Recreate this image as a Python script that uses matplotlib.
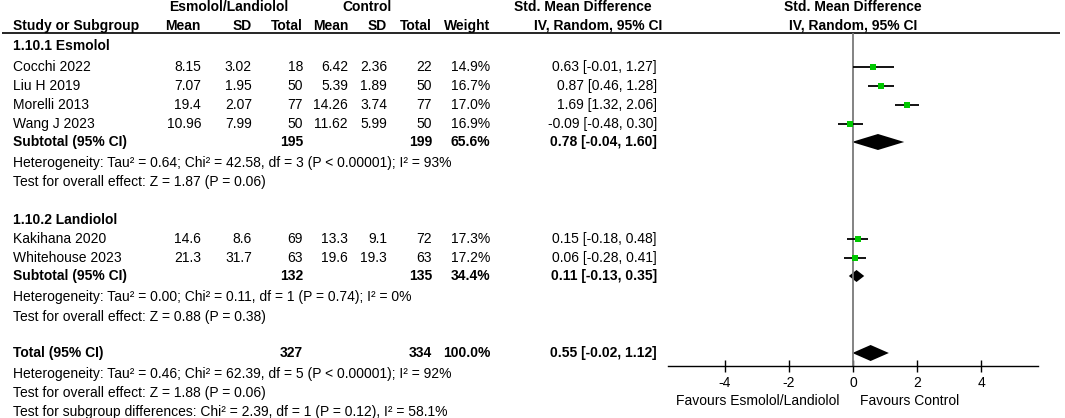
import matplotlib
matplotlib.use("Agg")
import matplotlib.pyplot as plt
import numpy as np

plt.rcParams['font.family'] = ['Liberation Sans', 'DejaVu Sans']
plt.rcParams['font.size'] = 10

# data
g1_studies = ['Cocchi 2022', 'Liu H 2019', 'Morelli 2013', 'Wang J 2023']
g1_exp_mean = ['8.15', '7.07', '19.4', '10.96']
g1_exp_sd = ['3.02', '1.95', '2.07', '7.99']
g1_exp_n = [18, 50, 77, 50]
g1_ctl_mean = ['6.42', '5.39', '14.26', '11.62']
g1_ctl_sd = ['2.36', '1.89', '3.74', '5.99']
g1_ctl_n = [22, 50, 77, 50]
g1_weight = [14.9, 16.7, 17.0, 16.9]
g1_smd = [0.63, 0.87, 1.69, -0.09]
g1_lo = [-0.01, 0.46, 1.32, -0.48]
g1_hi = [1.27, 1.28, 2.06, 0.30]

g2_studies = ['Kakihana 2020', 'Whitehouse 2023']
g2_exp_mean = ['14.6', '21.3']
g2_exp_sd = ['8.6', '31.7']
g2_exp_n = [69, 63]
g2_ctl_mean = ['13.3', '19.6']
g2_ctl_sd = ['9.1', '19.3']
g2_ctl_n = [72, 63]
g2_weight = [17.3, 17.2]
g2_smd = [0.15, 0.06]
g2_lo = [-0.18, -0.28]
g2_hi = [0.48, 0.41]

# subtotal / total pooled estimates: [group1, group2, total]
pooled_labels = ['Subtotal (95% CI)', 'Subtotal (95% CI)', 'Total (95% CI)']
pooled_exp_n = [195, 132, 327]
pooled_ctl_n = [199, 135, 334]
pooled_weight = ['65.6%', '34.4%', '100.0%']
pooled_smd = [0.78, 0.11, 0.55]
pooled_lo = [-0.04, -0.13, -0.02]
pooled_hi = [1.60, 0.35, 1.12]

g1_notes = ['Heterogeneity: Tau² = 0.64; Chi² = 42.58, df = 3 (P < 0.00001); I² = 93%',
            'Test for overall effect: Z = 1.87 (P = 0.06)']
g2_notes = ['Heterogeneity: Tau² = 0.00; Chi² = 0.11, df = 1 (P = 0.74); I² = 0%',
            'Test for overall effect: Z = 0.88 (P = 0.38)']
total_notes = ['Heterogeneity: Tau² = 0.46; Chi² = 62.39, df = 5 (P < 0.00001); I² = 92%',
               'Test for overall effect: Z = 1.88 (P = 0.06)',
               'Test for subgroup differences: Chi² = 2.39, df = 1 (P = 0.12), I² = 58.1%']

xticks = [-4, -2, 0, 2, 4]

# layout (figure pixels, y from top)
W, H = 1065, 418
col_right = [201, 252, 303, 348, 387, 432, 490]  # mean, sd, total, mean, sd, total, weight
ci_right = 657
name_x = 13
green = '#00c800'

fig = plt.figure(figsize=(W / 100, H / 100), dpi=100)
ax = fig.add_axes([0, 0, 1, 1])
ax.set_xlim(0, W)
ax.set_ylim(H, 0)
ax.axis('off')

# forest axes over the plot region
fa = fig.add_axes([668 / W, 0, 370 / W, 1])
fa.set_xlim(-5.78, 5.78)
fa.set_ylim(H, 0)
fa.patch.set_visible(False)
for s in ['top', 'left', 'right']:
    fa.spines[s].set_visible(False)
fa.spines['bottom'].set_position(('data', 366))
fa.spines['bottom'].set_linewidth(1.0)
fa.set_yticks([])
fa.set_xticks(xticks)
fa.set_xticklabels([str(t) for t in xticks])
fa.tick_params(axis='x', direction='inout', length=8, width=1.0, pad=3, labelsize=10)

# headers
ax.text(229, 7, 'Esmolol/Landiolol', ha='center', va='center', weight='bold')
ax.text(367, 7, 'Control', ha='center', va='center', weight='bold')
ax.text(583, 7, 'Std. Mean Difference', ha='center', va='center', weight='bold')
fa.text(0, 7, 'Std. Mean Difference', ha='center', va='center', weight='bold')
ax.text(name_x, 26, 'Study or Subgroup', ha='left', va='center', weight='bold')
for x, lab in zip(col_right, ['Mean', 'SD', 'Total', 'Mean', 'SD', 'Total', 'Weight']):
    ax.text(x, 26, lab, ha='right', va='center', weight='bold')
ax.text(598, 26, 'IV, Random, 95% CI', ha='center', va='center', weight='bold')
fa.text(0, 26, 'IV, Random, 95% CI', ha='center', va='center', weight='bold')
ax.hlines(32.5, 2, 1060, color='black', lw=1.2)

# zero line
fa.vlines(0, 33, 366, color='#7a7a7a', lw=1.3)


def study_rows(ys, names, em, es, en, cm, cs, cn, w, smd, lo, hi):
    for i, y in enumerate(ys):
        ax.text(name_x, y, names[i], ha='left', va='center')
        vals = [em[i], es[i], str(en[i]), cm[i], cs[i], str(cn[i]), f'{w[i]:.1f}%']
        for x, v in zip(col_right, vals):
            ax.text(x, y, v, ha='right', va='center')
        ax.text(ci_right, y, f'{smd[i]:.2f} [{lo[i]:.2f}, {hi[i]:.2f}]', ha='right', va='center')
        fa.hlines(y, lo[i], hi[i], color='black', lw=1.3)
        fa.plot(smd[i], y, 's', color=green, markersize=4.4 * np.sqrt(w[i] / 17.0),
                markeredgewidth=0)


def pooled_row(y, k, half_h):
    ax.text(name_x, y, pooled_labels[k], ha='left', va='center', weight='bold')
    ax.text(col_right[2], y, str(pooled_exp_n[k]), ha='right', va='center', weight='bold')
    ax.text(col_right[5], y, str(pooled_ctl_n[k]), ha='right', va='center', weight='bold')
    ax.text(col_right[6], y, pooled_weight[k], ha='right', va='center', weight='bold')
    ax.text(ci_right, y, f'{pooled_smd[k]:.2f} [{pooled_lo[k]:.2f}, {pooled_hi[k]:.2f}]',
            ha='right', va='center', weight='bold')
    fa.fill([pooled_lo[k], pooled_smd[k], pooled_hi[k], pooled_smd[k]],
            [y, y - half_h, y, y + half_h], color='black', lw=0)


# group 1
ax.text(name_x, 46, '1.10.1 Esmolol', ha='left', va='center', weight='bold')
study_rows([67, 86, 105, 124], g1_studies, g1_exp_mean, g1_exp_sd, g1_exp_n,
           g1_ctl_mean, g1_ctl_sd, g1_ctl_n, g1_weight, g1_smd, g1_lo, g1_hi)
pooled_row(142, 0, 8)
for y, t in zip([163, 182], g1_notes):
    ax.text(name_x, y, t, ha='left', va='center')

# group 2
ax.text(name_x, 220, '1.10.2 Landiolol', ha='left', va='center', weight='bold')
study_rows([239, 258], g2_studies, g2_exp_mean, g2_exp_sd, g2_exp_n,
           g2_ctl_mean, g2_ctl_sd, g2_ctl_n, g2_weight, g2_smd, g2_lo, g2_hi)
pooled_row(276, 1, 6)
for y, t in zip([297, 317], g2_notes):
    ax.text(name_x, y, t, ha='left', va='center')

# total
pooled_row(353, 2, 8)
for y, t in zip([374, 393, 412], total_notes):
    ax.text(name_x, y, t, ha='left', va='center')

fa.text(-0.43, 401, 'Favours Esmolol/Landiolol', ha='right', va='center')
fa.text(0.23, 401, 'Favours Control', ha='left', va='center')

fig.savefig('out.png', dpi=100)
